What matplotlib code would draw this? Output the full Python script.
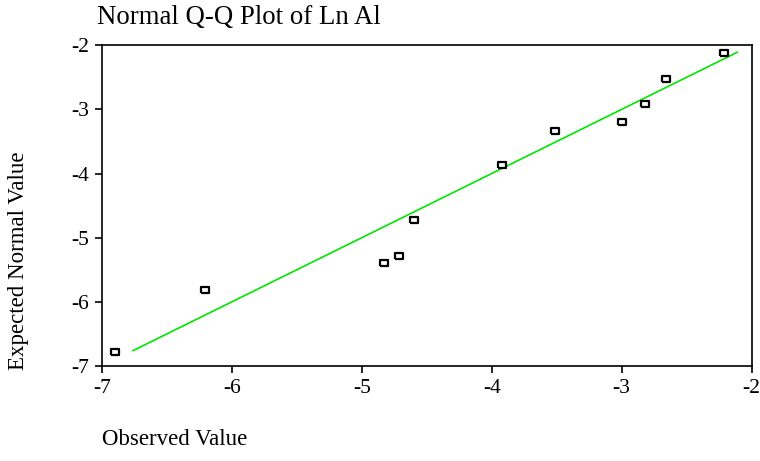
import matplotlib
matplotlib.use("Agg")
import matplotlib.pyplot as plt
import numpy as np

observed = [-6.90, -6.21, -4.83, -4.71, -4.60, -3.92, -3.51, -3.00, -2.82, -2.66, -2.21]
expected = [-6.78, -5.81, -5.39, -5.28, -4.72, -3.87, -3.34, -3.19, -2.92, -2.53, -2.12]
line_x = [-6.76, -2.11]
x_ticks = [-7, -6, -5, -4, -3, -2]
y_ticks = [-7, -6, -5, -4, -3, -2]

plt.rcParams['font.family'] = ['Liberation Serif', 'DejaVu Serif']

fig = plt.figure(figsize=(7.6, 4.61), dpi=100)
ax = fig.add_axes([0.134, 0.206, 0.855, 0.696])

ax.plot(line_x, line_x, color='#00e600', lw=1.2, zorder=2)
rect = [(-1, -0.75), (1, -0.75), (1, 0.75), (-1, 0.75), (-1, -0.75)]
ax.scatter(observed, expected, marker=rect, s=30, facecolors='white',
           edgecolors='black', linewidths=1.6, zorder=3)

ax.set_xlim(-7, -2)
ax.set_ylim(-7, -2)
ax.set_xticks(x_ticks)
ax.set_yticks(y_ticks)
ax.set_xticklabels([str(t) for t in x_ticks])
ax.set_yticklabels([str(t) for t in y_ticks])
ax.tick_params(direction='out', length=5, width=1.2, labelsize=15.5, pad=4)
for s in ax.spines.values():
    s.set_linewidth(1.2)

fig.text(0.128, 0.963, 'Normal Q-Q Plot of Ln Al', fontsize=19.3, va='center', ha='left')
fig.text(0.134, 0.046, 'Observed Value', fontsize=16.5, va='center', ha='left')
fig.text(0.025, 0.434, 'Expected Normal Value', fontsize=16.5, va='center', ha='center', rotation=90)

fig.savefig('out.png', dpi=100)
